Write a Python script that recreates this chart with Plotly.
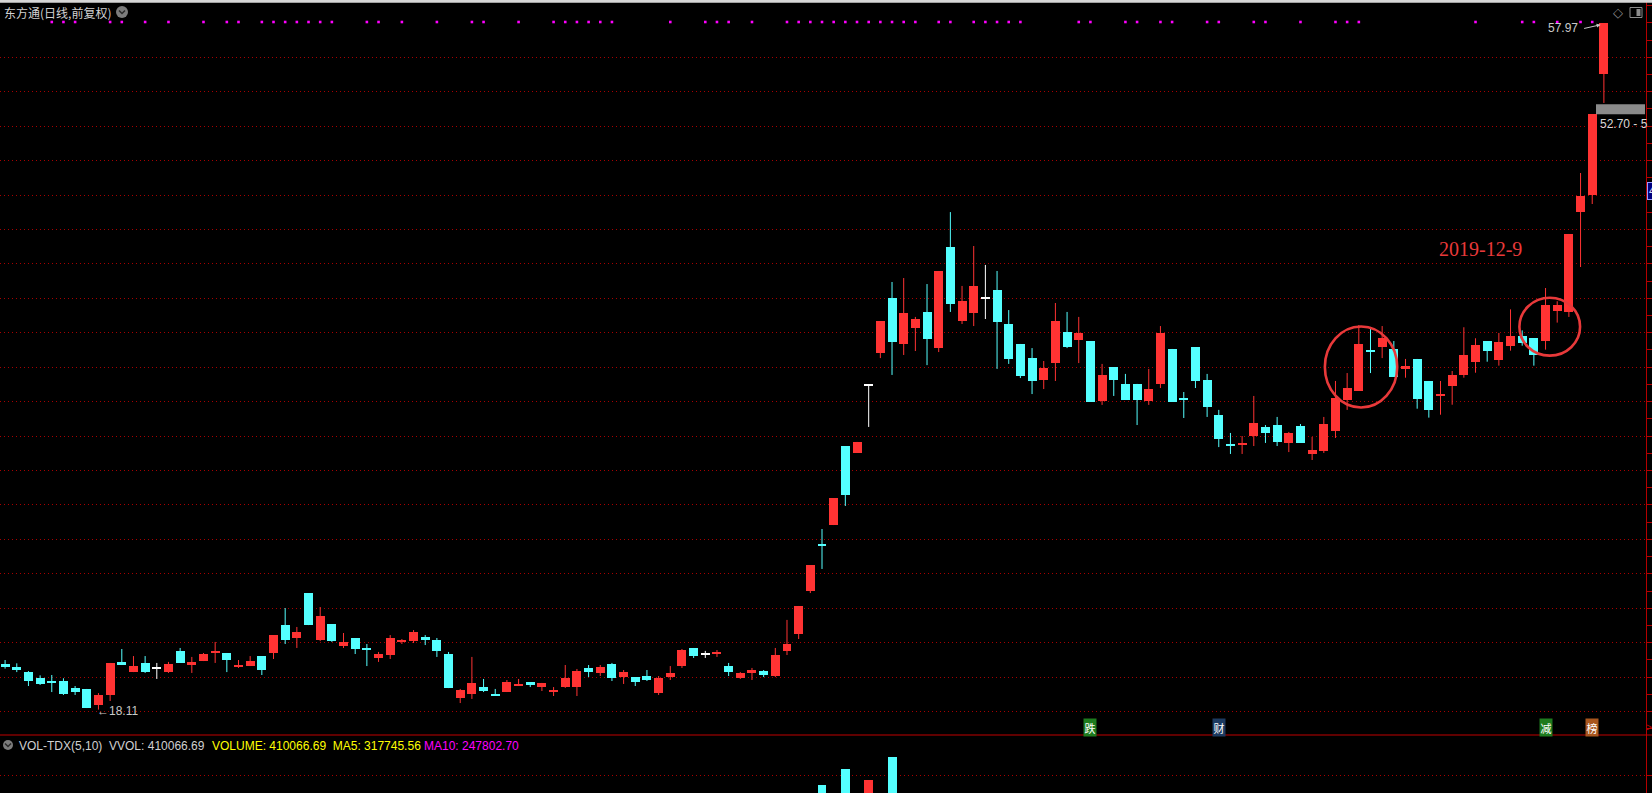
import plotly.graph_objects as go

# ---------------- data ----------------
opens = [20.76, 20.58, 20.29, 19.95, 19.77, 19.77, 19.38, 19.31, 18.38, 18.96,
         20.88, 20.29, 20.82, 20.51, 20.29, 21.51, 20.70, 20.93, 21.42, 21.40,
         20.58, 20.64, 21.22, 21.40, 23.02, 22.27, 24.88, 22.15, 23.08, 21.80,
         22.27, 21.69, 21.11, 21.28, 22.06, 22.09, 22.33, 22.15, 21.34, 18.78,
         19.02, 19.42, 19.02, 19.13, 19.54, 19.71, 19.42, 19.17, 19.42, 19.42,
         20.53, 20.24, 20.76, 20.00, 20.00, 20.06, 19.07, 20.00, 20.64, 21.69,
         21.32, 21.34, 20.64, 19.95, 20.24, 20.35, 20.06, 21.51, 22.50, 25.00,
         27.73, 28.83, 33.42, 33.02, 36.95, 38.83, 42.02, 39.35, 40.28, 41.21,
         39.11, 44.98, 40.68, 41.15, 42.00, 42.48, 40.51, 39.35, 38.53, 37.26,
         38.24, 40.04, 39.58, 39.52, 36.04, 38.01, 37.03, 37.03, 36.04, 37.03,
         39.06, 36.21, 39.17, 37.26, 35.22, 33.56, 33.48, 34.00, 34.53, 34.64,
         33.60, 34.59, 32.96, 33.13, 34.30, 36.10, 36.62, 39.00, 39.17, 39.06,
         37.91, 38.48, 37.20, 36.35, 36.93, 37.57, 38.32, 39.52, 38.44, 39.25,
         39.81, 39.69, 39.52, 41.26, 41.21, 47.02, 48.00, 55.03]
highs = [20.99, 20.80, 20.35, 20.10, 20.12, 19.93, 19.48, 19.31, 19.07, 20.82,
         21.63, 21.22, 21.22, 20.82, 20.88, 21.69, 21.17, 21.40, 22.04, 21.40,
         20.99, 21.22, 21.22, 22.44, 24.01, 22.91, 24.88, 24.07, 23.08, 22.56,
         22.27, 21.92, 21.46, 22.44, 22.21, 22.73, 22.44, 22.27, 21.46, 19.31,
         21.17, 19.89, 19.31, 19.83, 19.89, 19.71, 19.66, 19.42, 20.70, 20.47,
         20.70, 20.70, 20.82, 20.41, 20.00, 20.41, 20.06, 20.64, 21.63, 21.69,
         21.52, 21.57, 20.82, 20.29, 20.53, 20.41, 21.69, 23.32, 24.13, 26.51,
         28.60, 30.40, 33.42, 33.66, 36.95, 40.68, 42.95, 43.18, 40.92, 42.83,
         43.59, 47.01, 42.72, 45.04, 43.94, 43.59, 41.32, 39.35, 39.11, 38.36,
         41.73, 41.21, 40.92, 39.52, 38.19, 38.01, 37.61, 37.03, 37.90, 40.39,
         39.06, 36.56, 39.17, 37.61, 35.52, 34.18, 34.00, 36.33, 34.64, 35.11,
         34.24, 34.70, 33.95, 35.11, 37.20, 37.66, 40.45, 40.34, 40.39, 39.52,
         38.48, 38.48, 37.20, 37.20, 37.78, 40.32, 39.68, 39.52, 39.99, 41.36,
         40.14, 39.69, 42.60, 41.83, 45.74, 49.28, 52.70, 57.97]
lows = [20.49, 20.29, 19.48, 19.54, 19.13, 18.96, 18.96, 18.20, 18.11, 18.61,
        20.70, 20.29, 20.24, 19.89, 20.24, 20.82, 20.24, 20.93, 20.82, 20.29,
        20.53, 20.64, 20.12, 21.05, 21.92, 21.69, 23.02, 22.09, 22.04, 21.69,
        21.34, 20.64, 20.88, 21.05, 21.92, 21.98, 21.86, 21.17, 19.36, 18.49,
        18.73, 19.13, 18.90, 19.13, 19.48, 19.42, 19.19, 18.90, 19.37, 18.90,
        20.00, 20.06, 19.77, 19.60, 19.48, 19.77, 18.96, 19.83, 20.53, 21.11,
        21.11, 21.17, 20.06, 19.89, 19.83, 20.00, 20.00, 21.28, 22.21, 24.88,
        26.28, 28.83, 29.94, 33.02, 34.53, 38.53, 37.55, 38.71, 38.94, 38.12,
        38.88, 41.21, 40.51, 40.39, 40.80, 37.90, 38.19, 37.37, 36.44, 36.73,
        37.20, 39.11, 38.24, 35.98, 35.81, 36.33, 36.10, 34.64, 35.81, 36.79,
        35.98, 35.05, 36.79, 35.11, 33.36, 32.96, 32.96, 33.42, 33.60, 33.42,
        33.07, 33.60, 32.61, 33.02, 33.89, 35.52, 36.62, 37.66, 38.53, 37.43,
        37.39, 35.59, 35.07, 35.24, 35.82, 37.39, 37.68, 38.32, 38.09, 38.96,
        39.25, 38.09, 39.02, 40.59, 40.92, 43.82, 47.48, 53.35]
closes = [20.60, 20.41, 19.79, 19.60, 19.68, 19.02, 19.13, 18.22, 18.96, 20.82,
          20.70, 20.64, 20.29, 20.51, 20.76, 20.82, 20.88, 21.34, 21.48, 20.99,
          20.70, 20.93, 20.41, 22.44, 22.15, 22.62, 23.02, 23.55, 22.09, 22.04,
          21.63, 21.63, 21.34, 22.27, 22.13, 22.62, 22.15, 21.51, 19.36, 19.25,
          19.66, 19.19, 18.96, 19.71, 19.60, 19.54, 19.66, 19.25, 19.95, 20.35,
          20.29, 20.59, 19.95, 20.29, 19.71, 19.83, 19.95, 20.24, 21.57, 21.22,
          21.32, 21.46, 20.29, 20.24, 20.41, 20.12, 21.28, 21.92, 24.13, 26.51,
          27.63, 30.40, 30.58, 33.66, 36.95, 40.68, 39.46, 41.15, 40.80, 39.64,
          43.59, 41.67, 41.85, 42.72, 42.00, 40.63, 38.47, 37.49, 37.20, 37.95,
          40.68, 39.17, 39.99, 35.98, 37.55, 37.26, 36.10, 36.10, 36.73, 39.99,
          35.98, 36.11, 37.20, 35.69, 33.83, 33.48, 33.60, 34.76, 34.18, 33.66,
          34.18, 33.60, 33.19, 34.70, 36.21, 36.79, 39.35, 38.90, 39.70, 37.45,
          38.07, 36.17, 35.53, 36.46, 37.55, 38.71, 39.29, 38.96, 39.46, 39.81,
          39.42, 38.73, 41.61, 41.61, 45.74, 47.95, 52.70, 57.97]

# days carrying an information marker (magenta dots on top row)
news_idx = [4, 5, 6, 9, 10, 12, 14, 17, 19, 20, 22, 23, 24, 25, 26, 27, 28, 31, 32,
            34, 37, 40, 41, 44, 47, 48, 49, 50, 51, 52, 57, 60, 61, 62, 64, 67, 68,
            69, 70, 71, 72, 73, 74, 75, 76, 77, 78, 80, 81, 83, 84, 85, 86, 87, 92,
            93, 96, 97, 99, 100, 103, 104, 107, 108, 111, 114, 115, 116, 126, 130,
            131, 133, 135, 136]

# volume bars visible at the bottom edge of the window
vol_idx = [70, 72, 74, 76]
vol_vals = [475000, 555000, 502000, 617500]
vol_up = [False, False, True, False]

# event badges
event_idx = [93, 104, 132, 136]
event_text = ["跌", "财", "减", "榜"]
event_bg = ["#1E7B1E", "#1C3A60", "#1E7B1E", "#A8561E"]

grid_levels = list(range(18, 57, 2))
low_label, high_label = "18.11", "57.97"
vol_title = ["VOL-TDX(5,10)  VVOL: 410066.69", "VOLUME: 410066.69  MA5: 317745.56",
             "MA10: 247802.70"]

# ---------------- geometry / style ----------------
W, H = 1652, 793
X0_PX, X_STEP = 5.1, 11.67
PLOT_W = 1645.7
Y18_PX, PX_PER_UNIT = 711.5, 17.215
SEP_PX = 735
RED, CYAN, WHITE = "#FF3333", "#54FFFF", "#FFFFFF"
GRID_RED, AXIS_RED = "#A80000", "#B40000"
LABEL = "#C8C8C8"


def fx(px):
    return px / W


def fy(py):
    return 1 - py / H


x_lo = -X0_PX / X_STEP
x_hi = (PLOT_W - X0_PX) / X_STEP
p_hi = 18 + Y18_PX / PX_PER_UNIT
p_lo = 18 - (SEP_PX - Y18_PX) / PX_PER_UNIT
v_lo, v_hi = 435000, 725000
NEWS_Y = 18 + (Y18_PX - 22) / PX_PER_UNIT

fig = go.Figure()

groups = {"r": [], "c": [], "w": []}
for i, (o, c) in enumerate(zip(opens, closes)):
    groups["r" if c > o else ("c" if c < o else "w")].append(i)
colmap = {"r": RED, "c": CYAN, "w": WHITE}

for k, idxs in groups.items():
    col = colmap[k]
    wx, wy = [], []
    for i in idxs:
        wx += [i, i, None]
        wy += [lows[i], highs[i], None]
    fig.add_trace(go.Scatter(x=wx, y=wy, mode="lines", line=dict(color=col, width=1),
                             hoverinfo="skip", showlegend=False, xaxis="x", yaxis="y"))
    hgt = [max(abs(closes[i] - opens[i]), 0.07) for i in idxs]
    base = [(opens[i] + closes[i]) / 2 - h / 2 for i, h in zip(idxs, hgt)]
    fig.add_trace(go.Bar(x=idxs, y=hgt, base=base, width=0.77,
                         marker=dict(color=col, line=dict(width=0)),
                         hoverinfo="skip", showlegend=False, xaxis="x", yaxis="y"))

# info dots
fig.add_trace(go.Scatter(x=news_idx, y=[NEWS_Y] * len(news_idx), mode="markers",
                         marker=dict(symbol="square", size=2.6, color="#FF00FF",
                                     line=dict(width=0)),
                         hoverinfo="skip", showlegend=False, xaxis="x", yaxis="y"))

# volume
fig.add_trace(go.Bar(x=vol_idx, y=vol_vals, base=0, width=0.77,
                     marker=dict(color=[RED if u else CYAN for u in vol_up], line=dict(width=0)),
                     hoverinfo="skip", showlegend=False, xaxis="x2", yaxis="y2"))

shapes = []
# top frame strip
shapes.append(dict(type="rect", xref="paper", yref="paper", x0=0, x1=1, y0=fy(2.7), y1=1,
                   fillcolor="#D6D6D6", line=dict(width=0), layer="above"))
# panel separator
shapes.append(dict(type="line", xref="paper", yref="paper", x0=0, x1=1, y0=fy(SEP_PX),
                   y1=fy(SEP_PX), line=dict(color="#C00000", width=1)))
# hand-drawn circles
shapes.append(dict(type="circle", xref="x", yref="y", x0=113.09, x1=119.29, y0=35.66,
                   y1=40.36, line=dict(color="#E8393A", width=2.6)))
shapes.append(dict(type="circle", xref="x", yref="y", x0=129.76, x1=134.96, y0=38.67,
                   y1=42.03, line=dict(color="#E8393A", width=2.6)))
# price-level marker box
shapes.append(dict(type="rect", xref="paper", yref="y", x0=fx(1596), x1=fx(1645),
                   y0=closes[136], y1=closes[136] + 0.58, fillcolor="#8A8A8A",
                   line=dict(width=0)))
# title icon + volume icon
for cx, cy, r in [(122, 12, 6), (8, 745, 5)]:
    shapes.append(dict(type="circle", xref="paper", yref="paper", x0=fx(cx - r),
                       x1=fx(cx + r), y0=fy(cy + r), y1=fy(cy - r),
                       fillcolor="#7C7C7C", line=dict(width=0)))
    shapes.append(dict(type="path", xref="paper", yref="paper",
                       path=f"M {fx(cx-3)},{fy(cy-1.5)} L {fx(cx)},{fy(cy+1.5)} L {fx(cx+3)},{fy(cy-1.5)}",
                       line=dict(color="#2A2A2A", width=1.5)))
# top-right window icon
shapes.append(dict(type="rect", xref="paper", yref="paper", x0=fx(1630), x1=fx(1642),
                   y0=fy(17.5), y1=fy(7.5), line=dict(color="#8C8C8C", width=1)))
shapes.append(dict(type="rect", xref="paper", yref="paper", x0=fx(1636.5), x1=fx(1640.5),
                   y0=fy(16), y1=fy(9), fillcolor="#8C8C8C", line=dict(width=0)))

ann = []
ann.append(dict(text="东方通(日线,前复权)", xref="paper", yref="paper", x=fx(1.5), y=fy(12.5),
                xanchor="left", yanchor="middle", showarrow=False,
                font=dict(family="Noto Sans CJK SC", size=12, color="#D2D2D2")))
ann.append(dict(text="◇", xref="paper", yref="paper", x=fx(1617.5), y=fy(12.5),
                xanchor="center", yanchor="middle", showarrow=False,
                font=dict(family="DejaVu Sans", size=13, color="#8C8C8C")))
ann.append(dict(text=high_label, xref="paper", yref="paper", x=fx(1579.5), y=fy(28),
                xanchor="right", yanchor="middle", showarrow=False,
                font=dict(family="Liberation Sans", size=12, color=LABEL)))
ann.append(dict(text="", xref="x", yref="y", x=136.72, y=highs[137] - 0.08,
                ax=-18, ay=4, showarrow=True, arrowhead=2, arrowsize=0.8, arrowwidth=1,
                arrowcolor=LABEL))
ann.append(dict(text="←" + low_label, xref="x", yref="paper", x=7.7, y=fy(710.5),
                xanchor="left", yanchor="middle", showarrow=False,
                font=dict(family="Liberation Sans", size=12, color=LABEL)))
ann.append(dict(text="2019-12-9", xref="paper", yref="paper", x=fx(1480), y=fy(248.5),
                xanchor="center", yanchor="middle", showarrow=False,
                font=dict(family="Liberation Serif", size=20, color="#E8393A")))
ann.append(dict(text=f"{closes[136]:.2f} - 5", xref="paper", yref="paper", x=fx(1597.5),
                y=fy(123.5), xanchor="left", yanchor="middle", showarrow=False,
                font=dict(family="Liberation Sans", size=12, color="#D8D8D8")))
ann.append(dict(text="4", xref="paper", yref="paper", x=fx(1646.5), y=fy(190.5),
                xanchor="left", yanchor="middle", showarrow=False, bgcolor="#00007C",
                bordercolor="#9A9AFF", borderwidth=1, borderpad=1,
                font=dict(family="Liberation Sans", size=12, color="#C8D8FF")))
ann.append(dict(text=">", xref="paper", yref="paper", x=fx(1649), y=fy(727),
                xanchor="center", yanchor="middle", showarrow=False,
                font=dict(family="Liberation Sans", size=10, color="#C00000")))
for i, t, bg in zip(event_idx, event_text, event_bg):
    ann.append(dict(text=t, xref="x", yref="paper", x=i, y=fy(727.5), xanchor="center",
                    yanchor="middle", showarrow=False, bgcolor=bg, borderpad=0.5,
                    font=dict(family="Noto Sans CJK SC", size=11, color="#FFFFFF")))
for t, x0, col in zip(vol_title, [16.5, 210, 422], ["#D0D0D0", "#FFFF00", "#FF00FF"]):
    ann.append(dict(text=t, xref="paper", yref="paper", x=fx(x0), y=fy(745.5),
                    xanchor="left", yanchor="middle", showarrow=False,
                    font=dict(family="Liberation Sans", size=12, color=col)))

fig.update_layout(
    width=W, height=H, margin=dict(l=0, r=0, t=0, b=0),
    paper_bgcolor="black", plot_bgcolor="black", barmode="overlay", showlegend=False,
    bargap=0, shapes=shapes, annotations=ann,
    xaxis=dict(domain=[0, PLOT_W / W], range=[x_lo, x_hi], visible=False, anchor="y"),
    yaxis=dict(domain=[fy(SEP_PX), 1], range=[p_lo, p_hi], side="right", anchor="x",
               showline=True, linecolor=AXIS_RED, linewidth=1, zeroline=False,
               tickmode="array", tickvals=grid_levels, showticklabels=False,
               ticks="outside", ticklen=5, tickcolor=AXIS_RED,
               showgrid=True, gridcolor=GRID_RED, gridwidth=1, griddash="1px,3px",
               minor=dict(tickmode="linear", tick0=0, dtick=1, ticks="outside", ticklen=5,
                          tickcolor=AXIS_RED, showgrid=False)),
    xaxis2=dict(domain=[0, PLOT_W / W], range=[x_lo, x_hi], visible=False, anchor="y2",
                matches="x"),
    yaxis2=dict(domain=[0, fy(SEP_PX)], range=[v_lo, v_hi], side="right", anchor="x2",
                showline=True, linecolor=AXIS_RED, linewidth=1, zeroline=False,
                tickmode="array", tickvals=[525000], showticklabels=False,
                ticks="outside", ticklen=5, tickcolor=AXIS_RED,
                showgrid=True, gridcolor=GRID_RED, gridwidth=1, griddash="1px,3px"),
)

fig.write_html("out.html", config={"displayModeBar": False},
               post_script="document.body.style.margin='0';document.body.style.overflow='hidden';")
